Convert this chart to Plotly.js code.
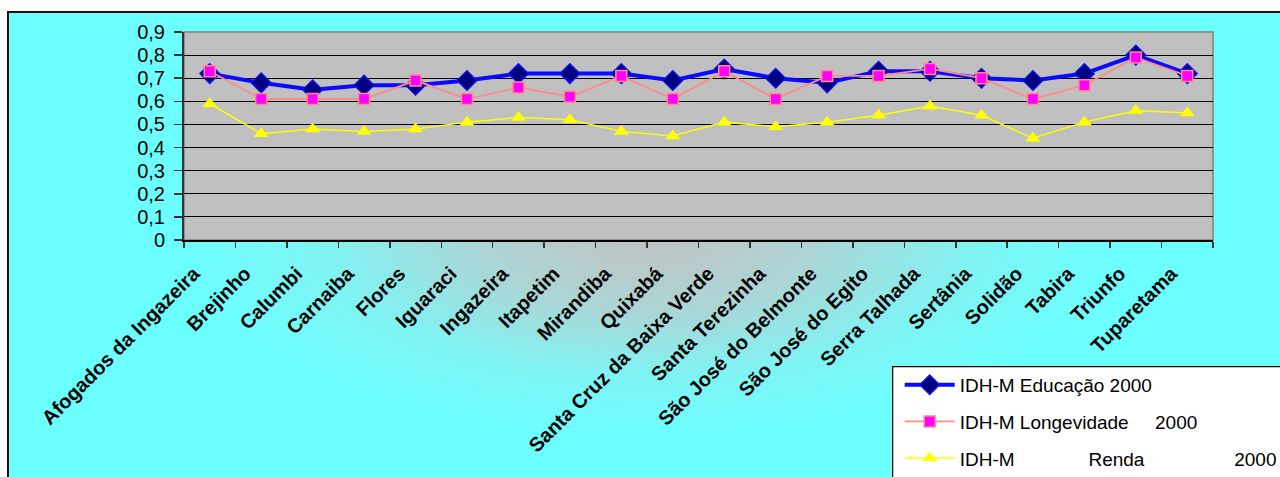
<!DOCTYPE html>
<html>
<head>
<meta charset="utf-8">
<script src="https://cdn.plot.ly/plotly-3.0.1.min.js"></script>
<style>
  html, body { margin: 0; padding: 0; width: 1280px; height: 477px; overflow: hidden; background: #ffffff; }
  #frame {
    position: absolute; left: 7px; top: 11px; width: 1300px; height: 500px;
    border-top: 2px solid #111; border-left: 2px solid #111;
    background:
      radial-gradient(ellipse 470px 200px at 640px 225px,
        rgba(192,194,194,1) 0%, rgba(185,205,205,0.85) 35%, rgba(150,230,230,0.45) 70%, rgba(108,255,255,0) 100%),
      #6cffff;
  }
  #chart { position: absolute; left: 0; top: 0; width: 1280px; height: 477px; }
</style>
</head>
<body>
<div id="frame"></div>
<div id="chart"></div>
<script>
// Municípios do Sertão do Pajeú
const municipios = [
  'Afogados da Ingazeira', 'Brejinho', 'Calumbi', 'Carnaiba', 'Flores',
  'Iguaraci', 'Ingazeira', 'Itapetim', 'Mirandiba', 'Quixabá',
  'Santa Cruz da Baixa Verde', 'Santa Terezinha', 'São José do Belmonte',
  'São José do Egito', 'Serra Talhada', 'Sertânia', 'Solidão', 'Tabira',
  'Triunfo', 'Tuparetama'
];

const idhEducacao = [0.72, 0.68, 0.65, 0.67, 0.67, 0.69, 0.72, 0.72, 0.72, 0.69,
                     0.74, 0.70, 0.68, 0.73, 0.73, 0.70, 0.69, 0.72, 0.80, 0.72];
const idhLongevidade = [0.73, 0.61, 0.61, 0.61, 0.69, 0.61, 0.66, 0.62, 0.71, 0.61,
                        0.73, 0.61, 0.71, 0.71, 0.74, 0.70, 0.61, 0.67, 0.79, 0.71];
const idhRenda = [0.59, 0.46, 0.48, 0.47, 0.48, 0.51, 0.53, 0.52, 0.47, 0.45,
                  0.51, 0.49, 0.51, 0.54, 0.58, 0.54, 0.44, 0.51, 0.56, 0.55];

const nbsp = n => '\u00A0'.repeat(n);
const nomes = [
  'IDH-M Educação 2000',
  'IDH-M Longevidade' + nbsp(5) + '2000',
  'IDH-M' + nbsp(14) + 'Renda' + nbsp(17) + '2000'
];

const font = 'Liberation Sans, Arial, sans-serif';

const traces = [
  {
    x: municipios, y: idhEducacao, name: nomes[0], type: 'scatter', mode: 'lines+markers',
    legendgroup: 'a',
    line: { color: '#0a0aff', width: 4 },
    marker: { symbol: 'diamond', size: 15, color: '#000080', line: { color: '#1010e0', width: 1.5 } }
  },
  {
    x: municipios, y: idhLongevidade, name: nomes[1], type: 'scatter', mode: 'lines+markers',
    legendgroup: 'b',
    line: { color: '#ff8a8a', width: 1.8 },
    marker: { symbol: 'square', size: 11, color: '#ff00ff', line: { color: '#ff8a8a', width: 1.5 } }
  },
  {
    x: municipios, y: idhRenda, name: nomes[2], type: 'scatter', mode: 'lines+markers',
    legendgroup: 'c',
    line: { color: '#ffff00', width: 1.5 },
    marker: { symbol: 'triangle-up', size: 13, color: '#ffff00', line: { color: '#ffff00', width: 0 } }
  }
];

const layout = {
  width: 1280, height: 477,
  margin: { l: 184, r: 67, t: 32, b: 237, autoexpand: false },
  paper_bgcolor: 'rgba(0,0,0,0)',
  plot_bgcolor: '#c0c0c0',
  separators: ',.',
  showlegend: true,
  font: { family: font, color: '#000', size: 19 },
  xaxis: {
    type: 'category',
    tickangle: -45,
    tickfont: { family: font, size: 20, weight: 'bold', color: '#000' },
    ticks: 'outside', ticklen: 6, tickcolor: '#333', tickwidth: 1.5,
    tickson: 'boundaries',
    ticklabelshift: -16, ticklabelstandoff: 12,
    showgrid: false,
    showline: true, linecolor: '#000', linewidth: 2,
    range: [-0.5, 19.5],
    fixedrange: true
  },
  yaxis: {
    range: [0, 0.9], dtick: 0.1, tick0: 0,
    tickfont: { family: font, size: 20, color: '#000' },
    ticks: 'outside', ticklen: 8, tickcolor: '#333', tickwidth: 1.5,
    ticklabelstandoff: 5,
    showgrid: true, gridcolor: '#000', gridwidth: 1,
    zeroline: false,
    showline: true, linecolor: '#333', linewidth: 2,
    fixedrange: true
  },
  shapes: [
    // plot area frame
    {
      type: 'rect', xref: 'paper', yref: 'paper', x0: 0, x1: 1, y0: 0, y1: 1,
      line: { color: '#808080', width: 1.5 }, layer: 'below'
    },
    // legend box, running off the right and bottom edges
    {
      type: 'rect', xref: 'paper', yref: 'paper', x0: 0.6887, x1: 1.2, y0: -1.3, y1: -0.609,
      fillcolor: '#ffffff', line: { color: '#000', width: 1.2 }, layer: 'above'
    }
  ],
  legend: {
    x: 0.6955, xanchor: 'left', y: -0.605, yanchor: 'top',
    bgcolor: 'rgba(0,0,0,0)', borderwidth: 0,
    font: { family: font, size: 19, color: '#000' },
    traceorder: 'grouped', tracegroupgap: 9,
    itemwidth: 50
  }
};

Plotly.newPlot('chart', traces, layout, { displayModeBar: false, staticPlot: true });
</script>
</body>
</html>
